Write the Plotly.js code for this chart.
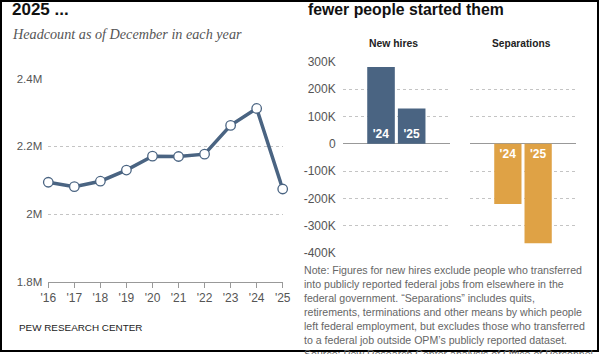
<!DOCTYPE html>
<html>
<head>
<meta charset="utf-8">
<script src="https://cdn.plot.ly/plotly-3.0.1.min.js"></script>
<style>html,body{margin:0;padding:0;background:#fff;}#chart{width:600px;height:354px;}</style>
</head>
<body>
<div id="chart"></div>
<script>
// Headcount data (millions)
const years = [2016, 2017, 2018, 2019, 2020, 2021, 2022, 2023, 2024, 2025];
const yearLabels = ["'16","'17","'18","'19","'20","'21","'22","'23","'24","'25"];
const headcount = [2.094, 2.081, 2.097, 2.130, 2.171, 2.170, 2.177, 2.262, 2.312, 2.074];

// Hires / separations (thousands)
const barLabels = ["'24", "'25"];
const barPos = [0, 1];
const newHires = [281, 129];
const separations = [-221, -365];

const leftTicks = [1.8, 2.0, 2.2, 2.4];
const leftTickText = ["1.8M", "2M", "2.2M", "2.4M"];
const rightTicks = [-400, -300, -200, -100, 0, 100, 200, 300];
const rightTickText = ["-400K", "-300K", "-200K", "-100K", "0", "100K", "200K", "300K"];

const noteLines = [
  "Note: Figures for new hires exclude people who transferred",
  "into publicly reported federal jobs from elsewhere in the",
  "federal government. \u201cSeparations\u201d includes quits,",
  "retirements, terminations and other means by which people",
  "left federal employment, but excludes those who transferred",
  "to a federal job outside OPM\u2019s publicly reported dataset.",
  "Source: Pew Research Center analysis of Office of Personnel"
];

const W = 600, H = 354;
const px = v => v / W;
const py = v => 1 - v / H;

const lineColor = "#4a6482";
const barBlue = "#4a6482";
const barOrange = "#dfa245";
const font = "Liberation Sans, Arial, sans-serif";

const traces = [
  {
    type: "scatter", mode: "lines+markers",
    x: years, y: headcount,
    xaxis: "x", yaxis: "y",
    line: {color: lineColor, width: 3.5},
    marker: {size: 9.5, color: "#ffffff", line: {color: lineColor, width: 1.3}},
    cliponaxis: false, hoverinfo: "skip"
  },
  {
    type: "bar", x: barPos, y: newHires, xaxis: "x2", yaxis: "y2",
    marker: {color: barBlue}, width: 0.9,
    text: barLabels, textposition: "inside", insidetextanchor: "start",
    textfont: {color: "#ffffff", size: 12, family: font, weight: "bold"},
    hoverinfo: "skip"
  },
  {
    type: "bar", x: barPos, y: separations, xaxis: "x3", yaxis: "y2",
    marker: {color: barOrange}, width: 0.9,
    text: barLabels, textposition: "inside", insidetextanchor: "start",
    textfont: {color: "#ffffff", size: 12, family: font, weight: "bold"},
    hoverinfo: "skip"
  }
];

const annotations = [
  {text: "<b>2025 ...</b>", x: px(11), y: py(9), xanchor: "left", yanchor: "middle",
   font: {size: 17, color: "#111", family: font}},
  {text: "<i>Headcount as of December in each year</i>", x: px(11), y: py(34), xanchor: "left", yanchor: "middle",
   font: {size: 14.2, color: "#555", family: "Liberation Serif, Georgia, serif"}},
  {text: "<b>fewer people started them</b>", x: px(307), y: py(9), xanchor: "left", yanchor: "middle",
   font: {size: 15.8, color: "#111", family: font}},
  {text: "<b>New hires</b>", x: px(393), y: py(44), xanchor: "center", yanchor: "middle",
   font: {size: 10.4, color: "#222", family: font}},
  {text: "<b>Separations</b>", x: px(521), y: py(44), xanchor: "center", yanchor: "middle",
   font: {size: 10.2, color: "#222", family: font}},
  {text: "PEW RESEARCH CENTER", x: px(18), y: py(327), xanchor: "left", yanchor: "middle",
   font: {size: 9.9, color: "#222", family: font}}
];
noteLines.forEach((t, i) => {
  annotations.push({text: t, x: px(303), y: py(269.5 + 14 * i), xanchor: "left", yanchor: "middle",
    font: {size: 10.6, color: "#666", family: font}});
});
annotations.forEach(a => { a.xref = "paper"; a.yref = "paper"; a.showarrow = false; a.borderpad = 0; });

const layout = {
  width: W, height: H,
  margin: {l: 0, r: 0, t: 0, b: 0},
  paper_bgcolor: "#ffffff", plot_bgcolor: "#ffffff",
  showlegend: false,
  font: {family: font, size: 12, color: "#555"},
  xaxis: {
    domain: [px(48.3), px(282.7)], range: [2016, 2025], anchor: "y",
    tickvals: years, ticktext: yearLabels,
    showgrid: false, zeroline: false,
    showline: true, linecolor: "#999", linewidth: 1,
    ticks: "outside", ticklen: 5, tickcolor: "#999",
    tickfont: {size: 12, color: "#555", family: font}
  },
  yaxis: {
    domain: [py(281.7), py(78.7)], range: [1.8, 2.4], anchor: "x",
    tickvals: leftTicks, ticktext: leftTickText,
    showgrid: true, gridcolor: "#c4c4c4", griddash: "dot", gridwidth: 1,
    zeroline: false, showline: false, ticks: "", ticklabelstandoff: 5,
    tickfont: {size: 11.5, color: "#555", family: font}
  },
  xaxis2: {
    domain: [px(342.7), px(450)], range: [-1.25, 2.25], anchor: "y2",
    showgrid: false, zeroline: false, showticklabels: false, ticks: "", showline: false
  },
  xaxis3: {
    domain: [px(470), px(576)], range: [-1.25, 2.25], anchor: "y2",
    showgrid: false, zeroline: false, showticklabels: false, ticks: "", showline: false
  },
  yaxis2: {
    domain: [py(252.9), py(61.8)], range: [-400, 300], anchor: "x2",
    tickvals: rightTicks, ticktext: rightTickText,
    showgrid: true, gridcolor: "#c4c4c4", griddash: "dot", gridwidth: 1,
    zeroline: true, zerolinecolor: "#999", zerolinewidth: 1.5,
    showline: false, ticks: "", ticklabelstandoff: 6,
    tickfont: {size: 12, color: "#555", family: font}
  },
  annotations: annotations,
  shapes: [
    {type: "rect", xref: "paper", yref: "paper", x0: px(1), x1: px(598), y0: py(351), y1: py(1),
     line: {color: "#000", width: 2}, fillcolor: "rgba(0,0,0,0)", layer: "above"}
  ]
};

Plotly.newPlot("chart", traces, layout, {staticPlot: true, displayModeBar: false});
</script>
</body>
</html>
